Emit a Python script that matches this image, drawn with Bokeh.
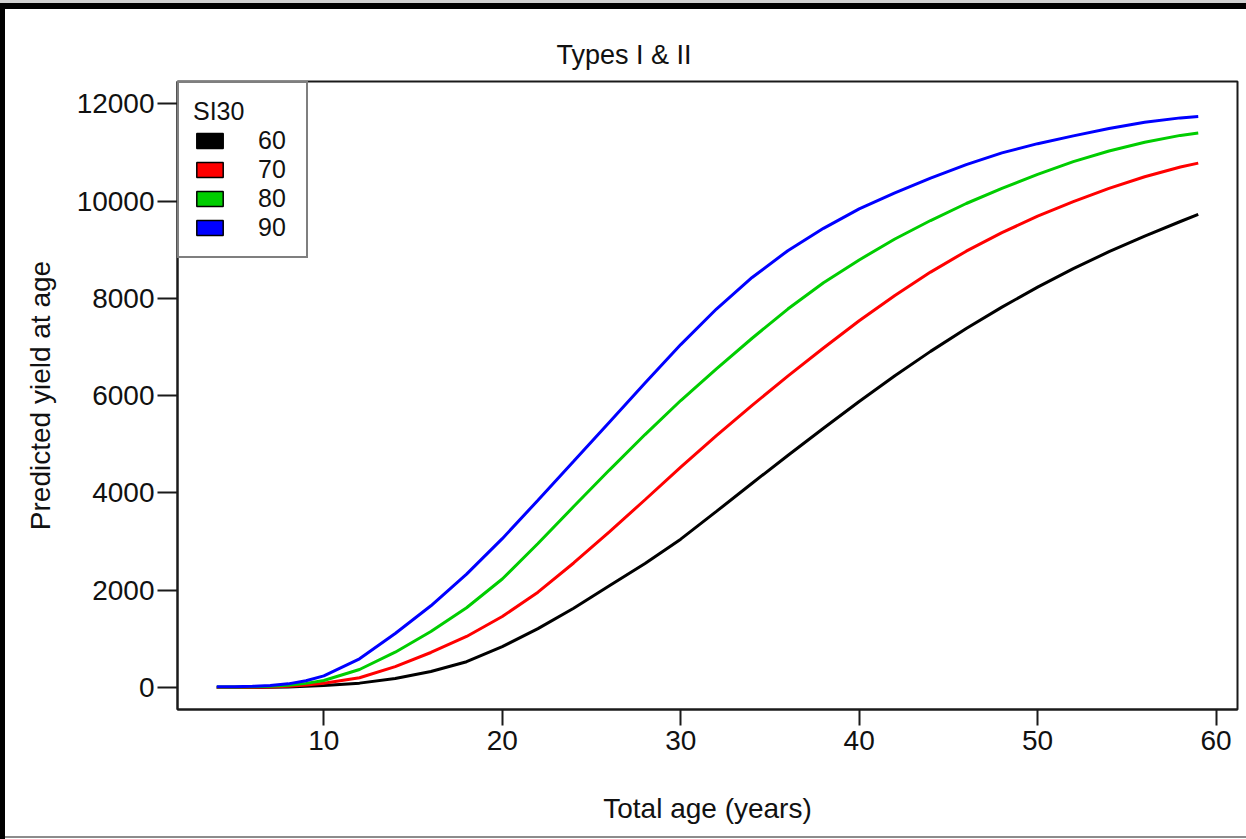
from bokeh.plotting import figure
from bokeh.models import Legend, LegendItem, SingleIntervalTicker, Range1d, ColumnDataSource
from bokeh.embed import file_html
from bokeh.resources import INLINE

# Predicted yield at age for four site-index classes (SI30)
ages = [4, 5, 6, 7, 8, 9, 10, 12, 14, 16, 18, 20, 22, 24, 26, 28, 30, 32, 34, 36,
        38, 40, 42, 44, 46, 48, 50, 52, 54, 56, 58, 59]
yield_si60 = [0, 0, 2, 5, 12, 25, 41, 90, 185, 330, 530, 840, 1210, 1630, 2090, 2550, 3050,
              3620, 4200, 4770, 5330, 5880, 6410, 6910, 7380, 7820, 8230, 8610, 8960, 9280,
              9580, 9725]
yield_si70 = [0, 3, 6, 12, 25, 50, 89, 200, 430, 720, 1050, 1460, 1960, 2560, 3200, 3860, 4530,
              5180, 5800, 6400, 6980, 7540, 8060, 8540, 8970, 9350, 9690, 9990, 10260, 10500,
              10700, 10780]
yield_si80 = [8, 10, 15, 25, 45, 85, 144, 370, 726, 1150, 1640, 2230, 2960, 3720, 4470, 5200,
              5900, 6550, 7180, 7780, 8320, 8790, 9220, 9600, 9950, 10260, 10550, 10810, 11030,
              11210, 11350, 11400]
yield_si90 = [15, 18, 25, 40, 75, 140, 240, 590, 1110, 1680, 2330, 3060, 3850, 4650, 5455, 6260,
              7050, 7780, 8430, 8980, 9440, 9840, 10170, 10470, 10750, 10990, 11180, 11340,
              11490, 11620, 11710, 11740]

si_labels = ["60", "70", "80", "90"]
series = [yield_si60, yield_si70, yield_si80, yield_si90]
colors = ["#000000", "#FF0000", "#00CD00", "#0000FF"]

FONT = "Liberation Sans"
INK = "#111111"

p = figure(frame_width=1060, frame_height=628,
           min_border_left=177, min_border_right=9, min_border_top=81, min_border_bottom=130,
           x_range=Range1d(1.8, 61.2), y_range=Range1d(-452, 12458),
           output_backend="svg", toolbar_location=None)

# page frame: heavy black top and left edges, thin grey bottom edge
p.border_fill_color = None
p.styles = {
    "background-color": "white",
    "box-shadow": ("inset 0 3px 0 0 #d0d0d0, inset 0 9px 0 0 #000000, "
                   "inset 5px 0 0 0 #000000, inset 0 -1px 0 0 #ffffff, "
                   "inset 0 -3px 0 0 #8c8c8c"),
}
p.background_fill_color = "white"
p.outline_line_color = "#1a1a1a"
p.outline_line_width = 2
p.xgrid.visible = False
p.ygrid.visible = False

# title
p.title.text = "Types I & II"
p.title.align = "left"
p.title.offset = 379
p.title.standoff = 24
p.title.text_font = FONT
p.title.text_font_size = "27px"
p.title.text_font_style = "normal"
p.title.text_color = INK

# axes
p.xaxis.ticker = SingleIntervalTicker(interval=10, num_minor_ticks=0)
p.yaxis.ticker = SingleIntervalTicker(interval=2000, num_minor_ticks=0)
p.xaxis.axis_label = "Total age (years)"
p.yaxis.axis_label = "Predicted yield at age"
for ax in (p.xaxis, p.yaxis):
    ax.axis_line_color = "#1a1a1a"
    ax.axis_line_width = 2
    ax.major_tick_line_color = "#1a1a1a"
    ax.major_tick_line_width = 2
    ax.major_tick_in = 0
    ax.minor_tick_line_color = None
    ax.major_label_text_font = FONT
    ax.major_label_text_font_size = "28px"
    ax.major_label_text_color = INK
    ax.axis_label_text_font = FONT
    ax.axis_label_text_font_size = "28px"
    ax.axis_label_text_font_style = "normal"
    ax.axis_label_text_color = INK
p.xaxis.major_tick_out = 16
p.yaxis.major_tick_out = 20
p.xaxis.major_label_standoff = 5
p.yaxis.major_label_standoff = 3
p.xaxis.axis_label_standoff = 40
p.yaxis.axis_label_standoff = 18
p.yaxis.major_label_orientation = "horizontal"

# yield curves
for vals, col in zip(series, colors):
    p.line(ages, vals, line_color=col, line_width=3)

# legend swatches: quads with no position, so only the legend shows them
nan = float("nan")
items = []
for lab, col in zip(si_labels, colors):
    src = ColumnDataSource(dict(l=[nan], r=[nan], t=[nan], b=[nan]))
    r = p.quad(left="l", right="r", top="t", bottom="b", source=src,
               fill_color=col, line_color="black", line_width=1.5)
    items.append(LegendItem(label=lab, renderers=[r]))

legend = Legend(items=items, location="top_left", title="SI30",
                margin=0, padding=14, spacing=0,
                glyph_width=33, glyph_height=19, label_standoff=32, label_width=34,
                label_text_font=FONT, label_text_font_size="25px", label_text_color=INK,
                title_text_font=FONT, title_text_font_size="25px",
                title_text_font_style="normal", title_text_color=INK, title_standoff=0,
                border_line_color="black", border_line_width=2,
                background_fill_color="white", background_fill_alpha=1)
p.add_layout(legend)

open("out.html", "w").write(file_html(p, INLINE))
